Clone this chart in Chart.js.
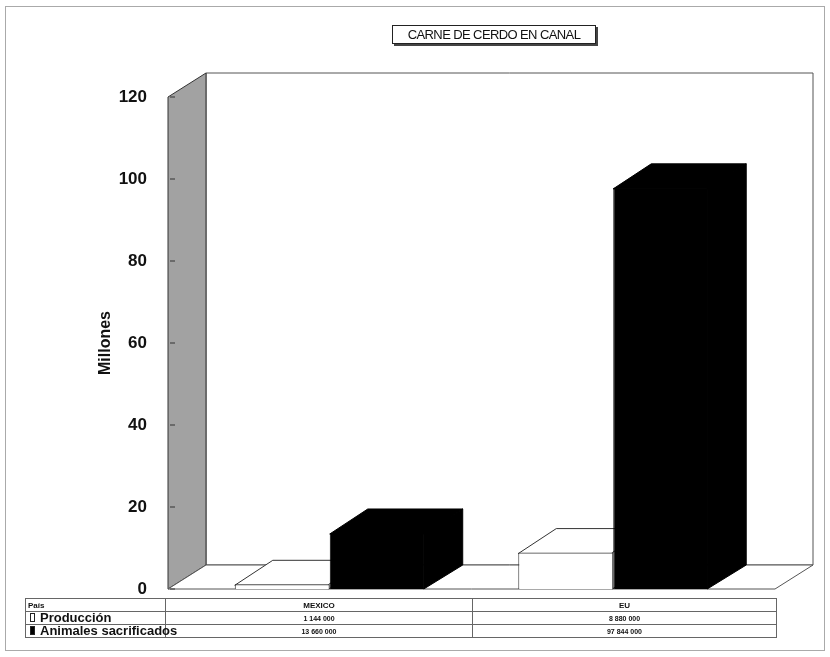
<!DOCTYPE html>
<html>
<head>
<meta charset="utf-8">
<script src="https://cdn.jsdelivr.net/npm/chart.js@4/dist/chart.umd.min.js"></script>
<style>
  body { margin: 0; background: #fff; }
  #wrap { position: relative; width: 830px; height: 657px; font-family: "Liberation Sans", Arial, sans-serif; }
  #frame { position: absolute; left: 5px; top: 6px; width: 820px; height: 645px; border: 1px solid #aaa; box-sizing: border-box; }
  #title { position: absolute; left: 392px; top: 25px; width: 202px; height: 17px; border: 1px solid #222;
           box-shadow: 2px 2px 0 #444; font-family: "Liberation Sans Narrow", "Liberation Sans", Arial, sans-serif;
           font-size: 13px; line-height: 17px; text-align: center; color: #111; letter-spacing: -0.6px; background: #fff; }
  #tabla { position: absolute; left: 25px; top: 598px; width: 751px; border-collapse: collapse; table-layout: fixed; }
  #tabla td { border: 1px solid #666; padding: 0 2px; height: 12px; text-align: center; font-weight: bold;
              font-size: 7px; color: #111; white-space: nowrap; overflow: hidden; }
  #tabla td.lab { text-align: left; font-size: 13px; line-height: 12px; overflow: visible; }
  #tabla td.pais { text-align: left; font-size: 8px; }
  #tabla td.cat { font-size: 8px; }
  .key { display: inline-block; width: 3px; height: 7px; border: 1px solid #222; margin: 0 5px 0 2px; vertical-align: 0px; }
  canvas { position: absolute; left: 0; top: 0; }
</style>
</head>
<body>
<div id="wrap">
  <div id="frame"></div>
  <canvas id="chart" width="830" height="657"></canvas>
  <div id="title">CARNE DE CERDO EN CANAL</div>
  <table id="tabla"></table>
</div>
<script>
const categorias = ['MEXICO', 'EU'];
const produccion = [1144000, 8880000];
const sacrificados = [13660000, 97844000];
const yTicks = [0, 20, 40, 60, 80, 100, 120];

const DX = 38, DY = -24;

const fmt = n => String(n).replace(/\B(?=(\d{3})+(?!\d))/g, ' ');

// data table under the chart
const tabla = document.getElementById('tabla');
tabla.innerHTML =
  '<colgroup><col style="width:140px"><col style="width:307px"><col style="width:304px"></colgroup>' +
  '<tr><td class="pais">País</td>' + categorias.map(c => '<td class="cat">' + c + '</td>').join('') + '</tr>' +
  '<tr><td class="lab"><span class="key" style="background:#fff"></span>Producción</td>' +
    produccion.map(v => '<td>' + fmt(v) + '</td>').join('') + '</tr>' +
  '<tr><td class="lab"><span class="key" style="background:#000"></span>Animales sacrificados</td>' +
    sacrificados.map(v => '<td>' + fmt(v) + '</td>').join('') + '</tr>';

const poly = (ctx, pts, fill, stroke) => {
  ctx.beginPath();
  ctx.moveTo(pts[0][0], pts[0][1]);
  for (let i = 1; i < pts.length; i++) ctx.lineTo(pts[i][0], pts[i][1]);
  ctx.closePath();
  ctx.fillStyle = fill;
  ctx.fill();
  if (stroke) { ctx.strokeStyle = stroke; ctx.lineWidth = 1; ctx.stroke(); }
};

const box3d = {
  id: 'box3d',
  beforeDatasetsDraw(chart) {
    const ctx = chart.ctx;
    const y = chart.scales.y;
    const l = chart.chartArea.left - 20, r = chart.chartArea.right + 20;
    const t = y.getPixelForValue(120), b = y.getPixelForValue(0);
    ctx.save();
    // back wall, left wall, floor
    poly(ctx, [[l + DX, t + DY], [r + DX, t + DY], [r + DX, b + DY], [l + DX, b + DY]], '#fff', '#555');
    poly(ctx, [[l, t], [l + DX, t + DY], [l + DX, b + DY], [l, b]], '#a2a2a2', '#333');
    poly(ctx, [[l, b], [l + DX, b + DY], [r + DX, b + DY], [r, b]], '#fff', '#555');
    // tick marks on the wall
    ctx.strokeStyle = '#333';
    yTicks.forEach(v => {
      const py = y.getPixelForValue(v);
      ctx.beginPath(); ctx.moveTo(l + 2, py); ctx.lineTo(l + 7, py); ctx.stroke();
    });
    // bar tops and sides, by category then series
    const metas = chart.data.datasets.map((d, i) => chart.getDatasetMeta(i));
    categorias.forEach((c, ci) => {
      metas.forEach((m, di) => {
        const bar = m.data[ci];
        const ds = chart.data.datasets[di];
        const x0 = bar.x - bar.width / 2, x1 = bar.x + bar.width / 2;
        // side face starts 1px inside the front face so no seam shows
        poly(ctx, [[x0, bar.y + 1], [x0 + DX, bar.y + DY], [x1 + DX, bar.y + DY], [x1 - 1, bar.y + 1]], ds.backgroundColor, ds.borderColor);
        poly(ctx, [[x1 - 1, bar.y], [x1 + DX, bar.y + DY], [x1 + DX, bar.base + DY], [x1 - 1, bar.base]], ds.backgroundColor, ds.borderColor);
      });
    });
    ctx.restore();
  }
};

new Chart(document.getElementById('chart'), {
  type: 'bar',
  data: {
    labels: categorias,
    datasets: [
      {
        label: 'Producción',
        data: produccion.map(v => v / 1e6),
        backgroundColor: '#fff',
        borderColor: '#333',
        borderWidth: 1
      },
      {
        label: 'Animales sacrificados',
        data: sacrificados.map(v => v / 1e6),
        backgroundColor: '#000',
        borderColor: '#000',
        borderWidth: 1
      }
    ]
  },
  options: {
    responsive: false,
    animation: false,
    layout: { padding: { left: 92, right: 75, top: 97, bottom: 68 } },
    categoryPercentage: 0.67,
    barPercentage: 1.0,
    plugins: {
      legend: { display: false },
      tooltip: { enabled: false }
    },
    scales: {
      x: { display: false },
      y: {
        min: 0,
        max: 120,
        afterFit: s => { s.width = 96; },
        afterBuildTicks: s => { s.ticks = yTicks.map(v => ({ value: v })); },
        grid: { display: false },
        border: { display: false },
        ticks: { padding: 33, color: '#111', font: { family: 'Liberation Sans', size: 17, weight: 'bold' } },
        title: { display: true, text: 'Millones', color: '#111', font: { family: 'Liberation Sans', size: 16, weight: 'bold' } }
      }
    }
  },
  plugins: [box3d]
});
</script>
</body>
</html>
